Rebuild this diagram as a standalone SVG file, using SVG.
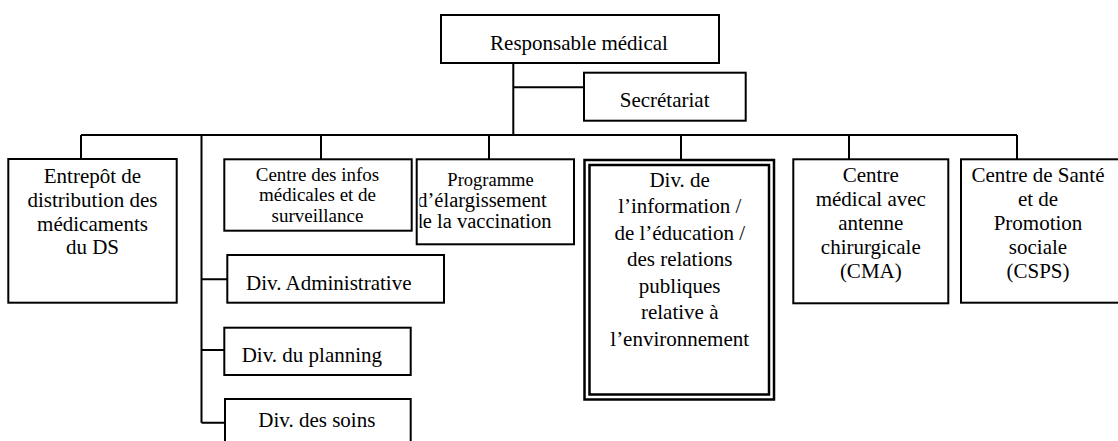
<svg xmlns="http://www.w3.org/2000/svg" width="1118" height="441" viewBox="0 0 1118 441">
  <style>
    .box { fill: #fff; stroke: #000; stroke-width: 2; }
    .dbl { fill: none; stroke: #000; stroke-width: 2.5; }
    .ln { fill: none; stroke: #000; stroke-width: 2; }
    text { font-family: "Liberation Serif", "Times New Roman", serif; font-size: 21px; fill: #000; }
    .c { text-anchor: middle; }
    .s19 { font-size: 19px; }
  </style>
  <defs>
    <!-- inner area of the vaccination box: its long lines are cut at the left edge -->
    <clipPath id="clip-pev">
      <rect x="419.5" y="160" width="154" height="84"/>
    </clipPath>
  </defs>

  <!-- connectors -->
  <g id="connectors">
    <path class="ln" d="M513.3 63 V135 M513.3 87.3 H584 M81 135 H1017 M81 135 V159 M321 135 V159 M489 135 V159 M681 135 V159 M849 135 V159 M1017 135 V159 M201.5 135 V422.7 M201.5 279.3 H227.3 M201.5 350 H224.3 M201.5 422.7 H225"/>
  </g>

  <g id="responsable">
    <rect class="box" x="441" y="15" width="278" height="48"/>
    <text class="c" x="579" y="50">Responsable médical</text>
  </g>

  <g id="secretariat">
    <rect class="box" x="584" y="72.7" width="161.7" height="48"/>
    <text class="c" x="664.6" y="107.3">Secrétariat</text>
  </g>

  <g id="entrepot">
    <rect class="box" x="8.3" y="159" width="168.4" height="143.7"/>
    <text class="c" x="92.5" y="182.7">Entrepôt de</text>
    <text class="c" x="92.5" y="206.6">distribution des</text>
    <text class="c" x="92.5" y="230.5">médicaments</text>
    <text class="c" x="92.5" y="254.3">du DS</text>
  </g>

  <g id="centre-infos">
    <rect class="box" x="224.3" y="159.3" width="187.4" height="71.4"/>
    <text class="c s19" x="317.5" y="180.5">Centre des infos</text>
    <text class="c s19" x="317.5" y="201">médicales et de</text>
    <text class="c s19" x="317.5" y="221.5">surveillance</text>
  </g>

  <g id="programme">
    <rect class="box" x="416.7" y="159.3" width="157.3" height="85"/>
    <g clip-path="url(#clip-pev)">
      <text class="c" x="490.5" y="186" style="font-size:18.5px">Programme</text>
      <text class="c" x="482" y="207" style="font-size:20.5px">d’élargissement</text>
      <text class="c" x="482" y="228" style="font-size:20.5px">de la vaccination</text>
    </g>
  </g>

  <g id="div-information">
    <rect x="584.5" y="160" width="189.5" height="239.5" fill="#fff"/>
    <rect class="dbl" x="584.5" y="160" width="189.5" height="239.5"/>
    <rect class="dbl" x="589.5" y="165" width="179.5" height="229.5"/>
    <text class="c" x="679.7" y="186.5">Div. de</text>
    <text class="c" x="679.7" y="213">l’information /</text>
    <text class="c" x="679.7" y="239.5">de l’éducation /</text>
    <text class="c" x="679.7" y="266">des relations</text>
    <text class="c" x="679.7" y="292.5">publiques</text>
    <text class="c" x="679.7" y="319">relative à</text>
    <text class="c" x="679.7" y="345.5">l’environnement</text>
  </g>

  <g id="cma">
    <rect class="box" x="793.3" y="159.3" width="155" height="144"/>
    <text class="c" x="870.8" y="182">Centre</text>
    <text class="c" x="870.8" y="206">médical avec</text>
    <text class="c" x="870.8" y="230">antenne</text>
    <text class="c" x="870.8" y="254">chirurgicale</text>
    <text class="c" x="870.8" y="278">(CMA)</text>
  </g>

  <g id="csps">
    <rect class="box" x="961" y="159.3" width="160" height="143.4"/>
    <text class="c" x="1038" y="182">Centre de Santé</text>
    <text class="c" x="1038" y="206">et de</text>
    <text class="c" x="1038" y="230">Promotion</text>
    <text class="c" x="1038" y="254">sociale</text>
    <text class="c" x="1038" y="278">(CSPS)</text>
  </g>

  <g id="div-administrative">
    <rect class="box" x="227.3" y="255" width="216.7" height="47.7"/>
    <text x="246" y="290">Div. Administrative</text>
  </g>

  <g id="div-planning">
    <rect class="box" x="224.3" y="327.7" width="186.4" height="47.3"/>
    <text x="241.7" y="361.7">Div. du planning</text>
  </g>

  <g id="div-soins">
    <rect class="box" x="225" y="399" width="185.7" height="50"/>
    <text x="258.3" y="426.7">Div. des soins</text>
  </g>
</svg>
